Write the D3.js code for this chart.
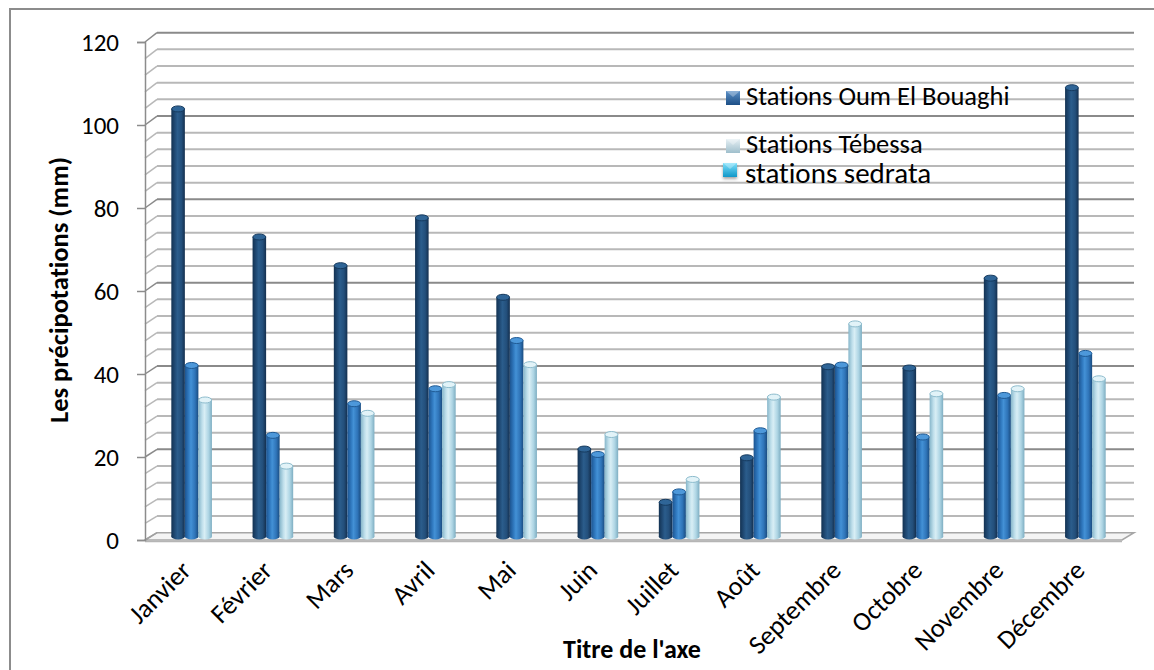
<!DOCTYPE html>
<html>
<head>
<meta charset="utf-8">
<script src="https://cdn.jsdelivr.net/npm/d3@7"></script>
<style>
  html, body { margin: 0; padding: 0; background: #ffffff; }
  svg { display: block; }
  text { font-family: Carlito, Calibri, Lato, sans-serif; fill: #000; font-variant-ligatures: none; }
</style>
</head>
<body>
<svg id="chart" width="1154" height="670"></svg>
<script>
// Monthly precipitation (mm) per station
const months = ["Janvier", "Février", "Mars", "Avril", "Mai", "Juin",
                "Juillet", "Août", "Septembre", "Octobre", "Novembre", "Décembre"];
const oumElBouaghi = [102.8, 72.0, 65.1, 76.6, 57.5, 21.0, 8.2, 18.9, 40.8, 40.5, 62.1, 107.9];
const sedrata      = [41.1, 24.3, 31.9, 35.5, 47.1, 19.7, 10.7, 25.4, 41.2, 23.9, 33.9, 44.0];
const tebessa      = [32.8, 16.9, 29.6, 36.5, 41.3, 24.5, 13.7, 33.5, 51.1, 34.3, 35.5, 37.9];
const yTicks = [0, 20, 40, 60, 80, 100, 120];
const legendLabels = ["Stations Oum El Bouaghi", "Stations Tébessa", "stations sedrata"];

const series = [
  { key: "oeb", values: oumElBouaghi },
  { key: "sed", values: sedrata },
  { key: "teb", values: tebessa }
];

const svg = d3.select("#chart");
const defs = svg.append("defs");

// Cylinder shading for each series
const shades = {
  oeb: { stops: ["#133252", "#214c77", "#2b5d8c", "#234f7b", "#142f4e"], cap: "#2f6597", capStroke: "#163a5e" },
  sed: { stops: ["#1c5490", "#3079bf", "#4391d6", "#2f74b8", "#1a4c80"], cap: "#4d98da", capStroke: "#1f5a94" },
  teb: { stops: ["#86b6ca", "#bfdfeb", "#d8eef5", "#aed5e4", "#7eaec2"], cap: "#e2f3f8", capStroke: "#8dbccd" }
};
Object.entries(shades).forEach(([k, s]) => {
  const g = defs.append("linearGradient").attr("id", "cyl-" + k)
    .attr("x1", 0).attr("x2", 1).attr("y1", 0).attr("y2", 0);
  [0, 0.28, 0.45, 0.75, 1].forEach((o, i) =>
    g.append("stop").attr("offset", o).attr("stop-color", s.stops[i]));
});

// Legend swatch fills
const swatchDefs = [
  { id: "sw-oeb", c1: "#5b8fc6", c2: "#1d4f86" },
  { id: "sw-teb", c1: "#e6f0f4", c2: "#9fbfcc" },
  { id: "sw-sed", c1: "#7fe0fb", c2: "#0f97c8" }
];
swatchDefs.forEach(s => {
  const g = defs.append("linearGradient").attr("id", s.id)
    .attr("x1", 0).attr("x2", 0).attr("y1", 0).attr("y2", 1);
  g.append("stop").attr("offset", 0).attr("stop-color", s.c1);
  g.append("stop").attr("offset", 1).attr("stop-color", s.c2);
});
const shadow = defs.append("filter").attr("id", "swShadow")
  .attr("x", "-50%").attr("y", "-50%").attr("width", "200%").attr("height", "200%");
shadow.append("feDropShadow").attr("dx", 0).attr("dy", 2).attr("stdDeviation", 1.5)
  .attr("flood-color", "#000").attr("flood-opacity", 0.35);

// Outer chart frame
svg.append("rect").attr("x", 10).attr("y", 9).attr("width", 1170).attr("height", 700)
  .attr("fill", "none").attr("stroke", "#8c8c8c").attr("stroke-width", 2);

// 3D box geometry: front plane (axis) and back wall
const yFront = d3.scaleLinear().domain([0, 120]).range([540, 42]);
const yBack  = d3.scaleLinear().domain([0, 120]).range([532.7, 32.7]);
const yBar   = d3.scaleLinear().domain([0, 120]).range([536.4, 37.4]);
const xFront0 = 145, xBack0 = 157, xBack1 = 1134, xFront1 = 1122;

const x = d3.scaleBand().domain(months).range([151, 1126]).paddingInner(0).paddingOuter(0);
const groupW = 40.6;
const xs = d3.scaleBand().domain(series.map(s => s.key)).range([0, groupW]);

// Floor
svg.append("polygon")
  .attr("points", [[xFront0, 540], [xFront1, 540], [xBack1, 532.7], [xBack0, 532.7]].join(" "))
  .attr("fill", "#f4f4f4").attr("stroke", "#a6a6a6").attr("stroke-width", 1.5);
svg.append("line").attr("x1", xFront0).attr("x2", xFront1).attr("y1", 541.5).attr("y2", 541.5)
  .attr("stroke", "#b5b5b5").attr("stroke-width", 1.5);

// Gridlines every 4 mm on back wall and left side wall
const gridVals = d3.range(4, 121, 4);
const grid = svg.append("g");
gridVals.forEach(v => {
  const major = v % 20 === 0;
  const col = major ? "#8a8a8a" : "#b8b8b8";
  grid.append("line").attr("x1", xBack0).attr("x2", xBack1)
    .attr("y1", yBack(v)).attr("y2", yBack(v))
    .attr("stroke", col).attr("stroke-width", 2);
  grid.append("line").attr("x1", xFront0).attr("x2", xBack0)
    .attr("y1", yFront(v)).attr("y2", yBack(v))
    .attr("stroke", col).attr("stroke-width", 1.5);
});
grid.append("line").attr("x1", xFront0).attr("x2", xBack0)
  .attr("y1", yFront(0)).attr("y2", yBack(0))
  .attr("stroke", "#a0a0a0").attr("stroke-width", 1.5);

// Vertical value axis with ticks and labels
const yAxis = d3.axisLeft(yFront).tickValues(yTicks).tickSize(8).tickPadding(18);
const yAxisG = svg.append("g").attr("transform", `translate(${xFront0},0)`).call(yAxis);
yAxisG.select(".domain").attr("stroke", "#8c8c8c").attr("stroke-width", 1.5);
yAxisG.selectAll(".tick line").attr("stroke", "#8c8c8c").attr("stroke-width", 1.5);
yAxisG.selectAll(".tick text")
  .style("font-family", "Carlito, Calibri, Lato, sans-serif")
  .style("font-size", "25px").attr("fill", "#000");

// Cylindrical columns
const bars = svg.append("g");
series.forEach(s => {
  const sh = shades[s.key];
  const w = xs.bandwidth();
  const g = bars.append("g");
  s.values.forEach((v, i) => {
    const x0 = x(months[i]) + x.bandwidth() / 2 - groupW / 2 + xs(s.key);
    const yt = yBar(v);
    const yb = yBar(0);
    const ry = 3;
    g.append("ellipse").attr("cx", x0 + w / 2).attr("cy", yb).attr("rx", w / 2).attr("ry", ry)
      .attr("fill", `url(#cyl-${s.key})`);
    g.append("rect").attr("x", x0).attr("y", yt).attr("width", w).attr("height", yb - yt)
      .attr("fill", `url(#cyl-${s.key})`);
    g.append("ellipse").attr("cx", x0 + w / 2).attr("cy", yt).attr("rx", w / 2 - 0.3).attr("ry", ry)
      .attr("fill", sh.cap).attr("stroke", sh.capStroke).attr("stroke-width", 1);
  });
});

// Category labels, rotated
const xLab = svg.append("g");
months.forEach(m => {
  const cx = x(m) + x.bandwidth() / 2;
  xLab.append("text")
    .attr("transform", `translate(${cx + 1},${572}) rotate(-45)`)
    .attr("text-anchor", "end")
    .style("font-size", "26.5px")
    .text(m);
});

// Axis titles
svg.append("text")
  .attr("transform", "translate(68,290) rotate(-90)")
  .attr("text-anchor", "middle")
  .style("font-size", "26.5px").style("font-weight", "bold")
  .text("Les précipotations (mm)");
svg.append("text")
  .attr("x", 632).attr("y", 658)
  .attr("text-anchor", "middle")
  .style("font-size", "26px").style("font-weight", "bold")
  .text("Titre de l'axe");

// Legend
const legendItems = [
  { label: legendLabels[0], fill: "url(#sw-oeb)", sx: 726, sy: 91, tx: 746, ty: 105, size: 26.5 },
  { label: legendLabels[1], fill: "url(#sw-teb)", sx: 726, sy: 139, tx: 746, ty: 153, size: 26.5 },
  { label: legendLabels[2], fill: "url(#sw-sed)", sx: 723, sy: 163, tx: 745, ty: 183, size: 29 }
];
const leg = svg.append("g");
legendItems.forEach((d, i) => {
  const sq = leg.append("g");
  sq.append("rect").attr("x", d.sx).attr("y", d.sy).attr("width", 14).attr("height", 14)
    .attr("fill", d.fill).attr("filter", i === 2 ? "url(#swShadow)" : null);
  // bevel highlight on the top edge
  sq.append("path")
    .attr("d", `M${d.sx},${d.sy} L${d.sx + 14},${d.sy} L${d.sx + 7},${d.sy + 6} Z`)
    .attr("fill", "#ffffff").attr("opacity", 0.3);
  leg.append("text").attr("x", d.tx).attr("y", d.ty)
    .style("font-size", d.size + "px").text(d.label);
});
</script>
</body>
</html>
